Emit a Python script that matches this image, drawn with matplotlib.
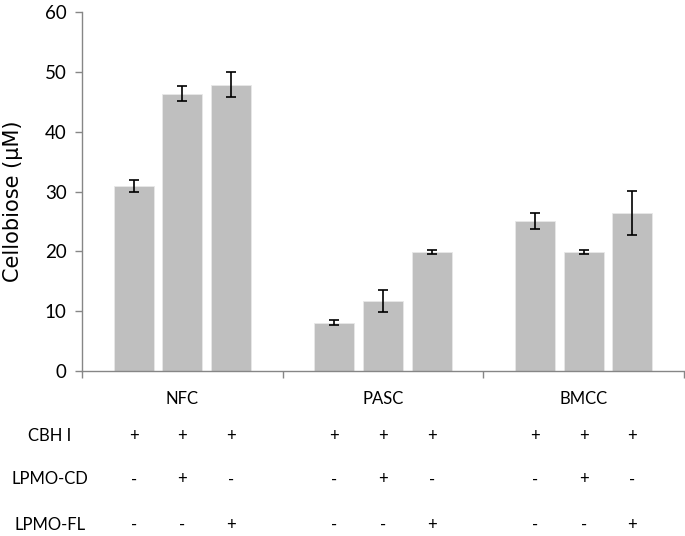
import numpy as np
import matplotlib.pyplot as plt
from matplotlib.transforms import blended_transform_factory

substrates = ['NFC', 'PASC', 'BMCC']
means = [[30.9, 46.4, 47.9],
         [8.1, 11.65, 19.9],
         [25.1, 19.95, 26.4]]
errs = [[1.0, 1.3, 2.1],
        [0.4, 1.85, 0.3],
        [1.4, 0.3, 3.7]]
row_names = ['CBH I', 'LPMO-CD', 'LPMO-FL']
signs = [['+', '+', '+'],
         ['-', '+', '-'],
         ['-', '-', '+']]

W, H = 685, 536
fig = plt.figure(figsize=(W / 100, H / 100), dpi=100)
ax = fig.add_axes([82 / W, 1 - 371 / H, (684 - 82) / W, (371 - 12.3) / H])

offsets = np.array([-0.243, 0.0, 0.243])
for g in range(len(substrates)):
    ax.bar(g + offsets, means[g], width=0.2, color='#BFBFBF', edgecolor='#E8E8E8', linewidth=0.6, zorder=2)
    ax.errorbar(g + offsets, means[g], yerr=errs[g], fmt='none', ecolor='black',
                elinewidth=1.2, capsize=3.3, capthick=1.2, zorder=3)

ax.set_xlim(-0.5, 2.5)
ax.set_ylim(0, 60)
ax.set_yticks(range(0, 61, 10))
ax.set_xticks([-0.5, 0.5, 1.5, 2.5])
ax.set_xticklabels([])
for s in ['top', 'right']:
    ax.spines[s].set_visible(False)
for s in ['left', 'bottom']:
    ax.spines[s].set_color('#868686')
    ax.spines[s].set_linewidth(1.0)
ax.tick_params(axis='both', colors='#868686', length=5, width=1.0)
ax.tick_params(axis='y', labelcolor='black', labelsize=13.5, pad=6)
for lab in ax.get_yticklabels():
    lab.set_family('Lato')

# y label placed by hand so it sits near the left edge like the original
fig.text(13 / W, 1 - 201 / H, 'Cellobiose (μM)', rotation=90, ha='center', va='center',
         fontsize=15, family='DejaVu Sans')

trans = blended_transform_factory(ax.transData, fig.transFigure)
for g, name in enumerate(substrates):
    ax.text(g, 1 - 398.5 / H, name, transform=trans, ha='center', va='center',
            fontsize=12, family='Lato', clip_on=False)

row_y = [435.7, 479.5, 525]
for r, name in enumerate(row_names):
    fig.text(50 / W, 1 - row_y[r] / H, name, ha='center', va='center', fontsize=12, family='Lato')
    for g in range(len(substrates)):
        for b in range(3):
            ax.text(g + offsets[b], 1 - row_y[r] / H, signs[r][b], transform=trans,
                    ha='center', va='center', fontsize=12, family='Lato', clip_on=False)

fig.savefig('out.png', dpi=100)
